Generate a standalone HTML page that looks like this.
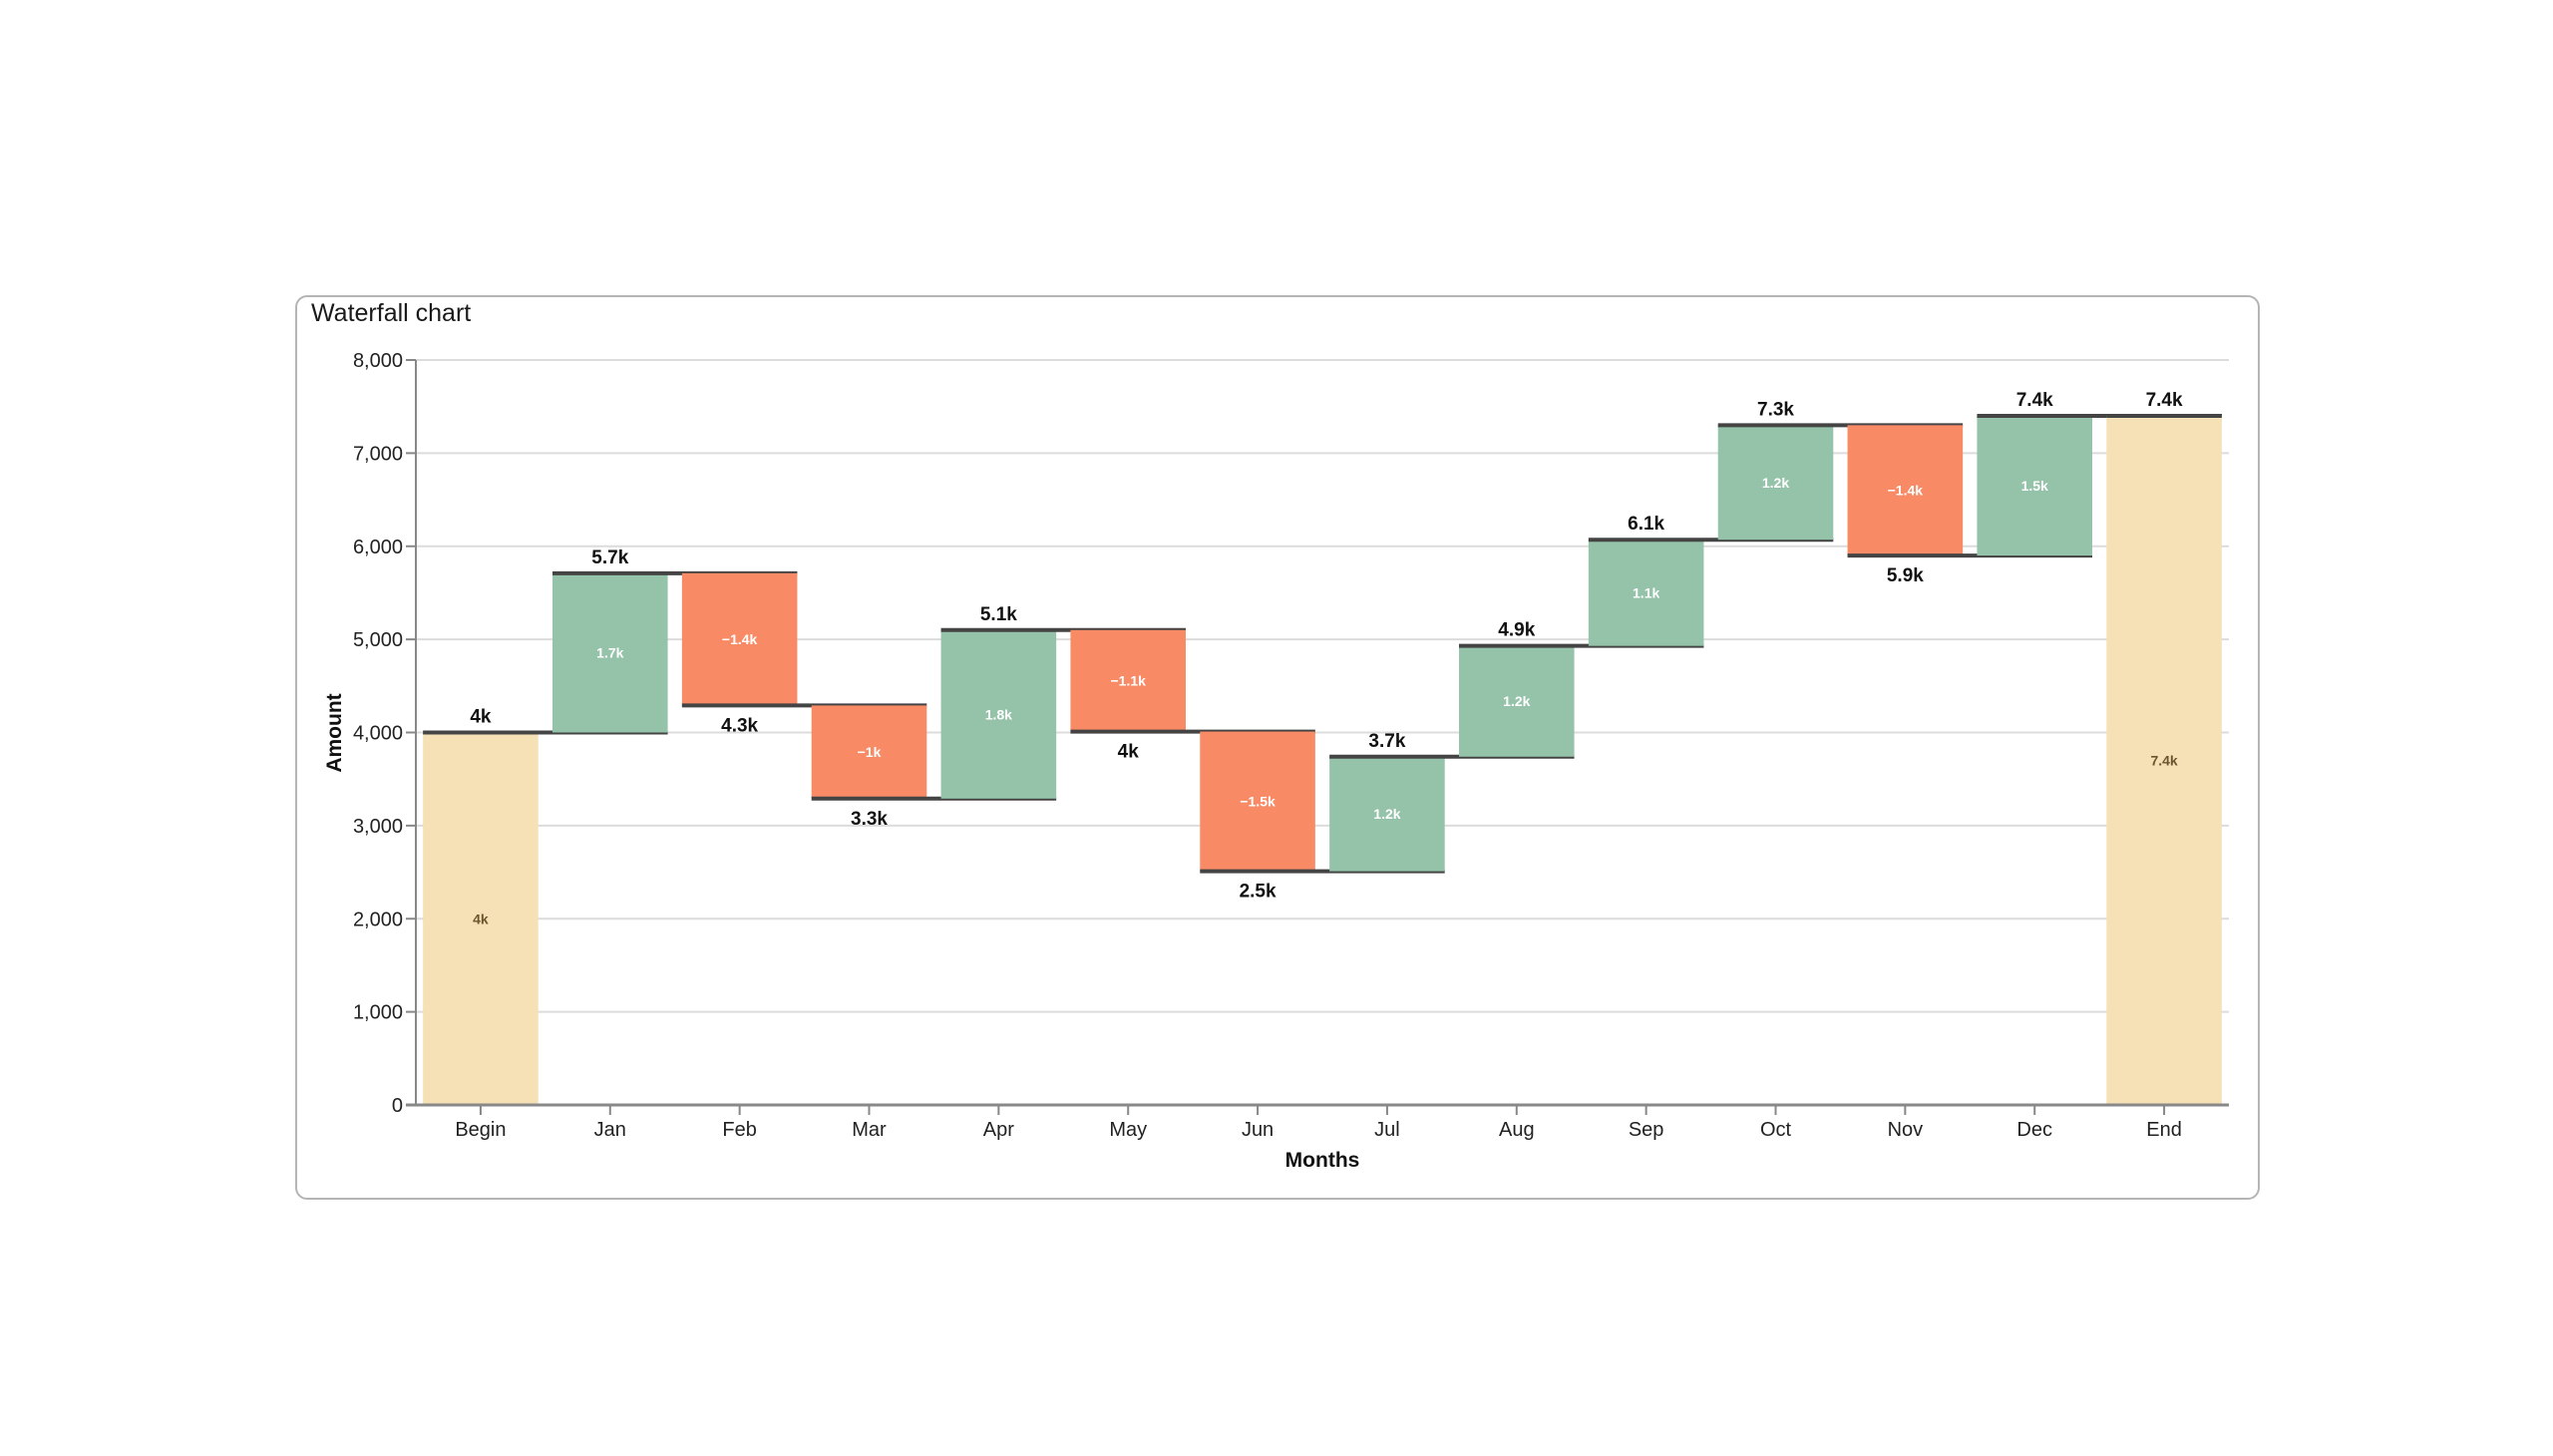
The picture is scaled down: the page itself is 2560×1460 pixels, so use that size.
<!DOCTYPE html>
<html><head><meta charset="utf-8">
<style>
html,body{margin:0;padding:0;background:#fff;}
body{width:2560px;height:1460px;position:relative;overflow:hidden;font-family:"Liberation Sans",sans-serif;}
#card{position:absolute;left:296px;top:296px;width:1970px;height:907px;border:2px solid #b5b5b5;border-radius:12px;box-sizing:border-box;}
#title{position:absolute;left:312px;top:300px;font-size:25px;color:#1a1a1a;font-family:"Liberation Sans",sans-serif;}
svg{position:absolute;left:0;top:0;}
</style></head>
<body>
<div id="card"></div>
<div id="title">Waterfall chart</div>
<svg id="chart" width="2560" height="1460"></svg>
<script>
const categories = ["Begin","Jan","Feb","Mar","Apr","May","Jun","Jul","Aug","Sep","Oct","Nov","Dec","End"];
const deltas = [4000,1710,-1420,-1000,1810,-1090,-1500,1230,1190,1140,1230,-1400,1500,0];
const yTicks = [0,1000,2000,3000,4000,5000,6000,7000,8000];
const yTickLabels = ["0","1,000","2,000","3,000","4,000","5,000","6,000","7,000","8,000"];

const NS="http://www.w3.org/2000/svg";
const svg=document.getElementById('chart');
const X0=417, X1=2235, Y0=1108, Y1=361, YMAX=8000;
const step=(X1-X0)/categories.length, pad=0.055*step, bw=step-2*pad;
function y(v){return Y0-(v/YMAX)*(Y0-Y1);}
function xb(i){return X0+i*step+pad;}
function xc(i){return X0+i*step+step/2;}
function el(tag,attrs,txt){const e=document.createElementNS(NS,tag);for(const k in attrs)e.setAttribute(k,attrs[k]);if(txt!==undefined)e.textContent=txt;svg.appendChild(e);return e;}
function fmt(v){const a=Math.abs(v)/1000;let s=(Math.round(a*10)/10).toString();return (v<0?"\u2212":"")+s+"k";}

yTicks.forEach((t,i)=>{
  if(t>0){const g=el('line',{x1:X0,x2:X1,y1:y(t),y2:y(t),stroke:'#dcdcdc','stroke-width':2});
  
  }
  const tk=el('line',{x1:X0-10,x2:X0,y1:y(t),y2:y(t),stroke:'#888','stroke-width':2});
  
  
  const tl=el('text',{x:X0-13,y:y(t)+7,'text-anchor':'end','font-size':20,fill:'#222'},yTickLabels[i]);
  
  
});

let totals=[],starts=[],run=0;
deltas.forEach((d,i)=>{
  if(i===0){starts.push(0);run=d;}
  else if(i===deltas.length-1){starts.push(0);}
  else{starts.push(run);run+=d;}
  totals.push(run);
});

categories.forEach((c,i)=>{
  const isEnd=(i===0||i===categories.length-1);
  const a=starts[i], b=totals[i];
  const top=Math.max(a,b), bot=Math.min(a,b);
  const color=isEnd?'#f6e0b6':(deltas[i]>=0?'#94c3a9':'#f88b66');
  const r=el('rect',{x:xb(i),y:y(top),width:bw,height:y(bot)-y(top),fill:color});
  
  
  const val=isEnd?b:deltas[i];
  const il=el('text',{x:xc(i),y:(y(top)+y(bot))/2+5,'text-anchor':'middle','font-size':14,'font-weight':'bold',fill:isEnd?'#6b5530':'#fff'},fmt(val));
  
  
  const xe=(i<categories.length-1)?xb(i+1)+bw:xb(i)+bw;
  const ln=el('line',{x1:xb(i),x2:xe,y1:y(b),y2:y(b),stroke:'#444','stroke-width':4});
  
  
  const up=isEnd||deltas[i]>=0;
  const tl=el('text',{x:xc(i),y:up?y(b)-10:y(b)+26,'text-anchor':'middle','font-size':19,'font-weight':'bold',fill:'#111'},fmt(b));
  
  
  const xt=el('line',{x1:xc(i),x2:xc(i),y1:Y0,y2:Y0+10,stroke:'#888','stroke-width':2});
  
  
  const xl=el('text',{x:xc(i),y:Y0+31,'text-anchor':'middle','font-size':20,fill:'#222'},c);
  
  
});

const ya=el('line',{x1:X0,x2:X0,y1:Y1,y2:Y0,stroke:'#888','stroke-width':2});


const xa=el('line',{x1:X0-10,x2:X1,y1:Y0,y2:Y0,stroke:'#888','stroke-width':3});


const yt=el('text',{x:0,y:0,'text-anchor':'middle','font-size':21,'font-weight':'bold',fill:'#111',transform:'translate(342,735) rotate(-90)'},'Amount');


const xt=el('text',{x:(X0+X1)/2,y:1170,'text-anchor':'middle','font-size':21,'font-weight':'bold',fill:'#111'},'Months');


</script>
</body></html>
